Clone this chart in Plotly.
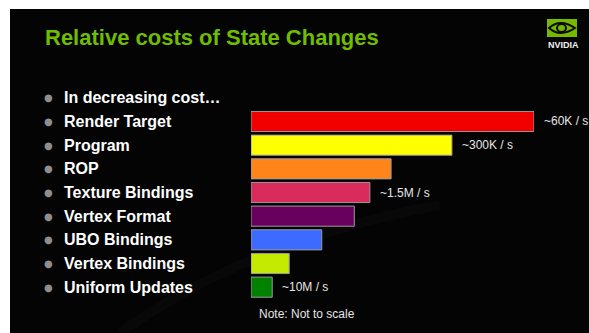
import plotly.graph_objects as go

# Relative cost of each kind of state change (arbitrary units, most expensive = 100)
header = "In decreasing cost…"
categories = ["Render Target", "Program", "ROP", "Texture Bindings",
              "Vertex Format", "UBO Bindings", "Vertex Bindings", "Uniform Updates"]
relative_cost = [100, 71, 49.5, 42, 36.5, 25, 13.5, 7.5]
bar_colors = ["#f20000", "#ffff00", "#ff8419", "#d92c5c",
              "#68005e", "#3d6bff", "#c3ea00", "#008200"]

# Throughput notes attached to some of the bars
rate_labels = {"Render Target": "~60K / s", "Program": "~300K / s",
               "Texture Bindings": "~1.5M / s", "Uniform Updates": "~10M / s"}

title_text = "Relative costs of State Changes"
note_text = "Note: Not to scale"

W, H = 589, 333
rows = [header] + categories

def px_x(v):
    return v / W

def px_y(v):
    return 1 - v / H

fig = go.Figure()
fig.add_trace(go.Bar(
    y=categories, x=relative_cost, orientation="h",
    marker=dict(color=bar_colors, line=dict(color="#9a9a9a", width=1)),
    hoverinfo="skip", showlegend=False,
))

shapes = [
    # slide background
    dict(type="rect", xref="paper", yref="paper", x0=px_x(10), x1=1, y0=0, y1=px_y(9),
         fillcolor="#040404", line=dict(width=0), layer="below"),
    # very faint swoosh in the background
    dict(type="path", xref="paper", yref="paper",
         path=f"M {px_x(120)},{px_y(333)} Q {px_x(250)},{px_y(240)} {px_x(440)},{px_y(205)}",
         line=dict(color="#080808", width=10), layer="below"),
    # logo mark
    dict(type="rect", xref="paper", yref="paper", x0=px_x(547), x1=px_x(577), y0=px_y(37), y1=px_y(19),
         fillcolor="#76b900", line=dict(width=0)),
    dict(type="path", xref="paper", yref="paper",
         path=(f"M {px_x(549)},{px_y(28)} Q {px_x(560)},{px_y(18)} {px_x(575)},{px_y(28)} "
               f"Q {px_x(560)},{px_y(38)} {px_x(549)},{px_y(28)} Z"),
         fillcolor="rgba(0,0,0,0)", line=dict(color="#0b0b0b", width=2)),
    dict(type="circle", xref="paper", yref="paper", x0=px_x(557), x1=px_x(566), y0=px_y(32), y1=px_y(24),
         fillcolor="rgba(0,0,0,0)", line=dict(color="#0b0b0b", width=2)),
]

annotations = [
    dict(text=f"<b>{title_text}</b>", xref="paper", yref="paper", x=px_x(43), y=px_y(37),
         xanchor="left", yanchor="middle", showarrow=False,
         font=dict(family="Arial, Liberation Sans", size=22, color="#70bd00")),
    dict(text="<b>NVIDIA</b>", xref="paper", yref="paper", x=px_x(563), y=px_y(45),
         xanchor="center", yanchor="middle", showarrow=False,
         font=dict(family="Arial, Liberation Sans", size=9, color="#f0f0f0")),
    dict(text=note_text, xref="paper", yref="paper", x=px_x(257), y=px_y(314),
         xanchor="left", yanchor="middle", showarrow=False,
         font=dict(family="Arial, Liberation Sans", size=12, color="#e6e6e6")),
]

# bullet list down the left side
for r in rows:
    annotations.append(dict(
        text=f"<b>{r}</b>", xref="paper", yref="y", x=px_x(62), y=r,
        xanchor="left", yanchor="middle", showarrow=False,
        font=dict(family="Arial, Liberation Sans", size=16, color="#ffffff")))
    annotations.append(dict(
        text="●", xref="paper", yref="y", x=px_x(48), y=r,
        xanchor="center", yanchor="middle", showarrow=False,
        font=dict(family="DejaVu Sans", size=10, color="#8e8e8e")))

# throughput labels just past the bar ends
for c, v in zip(categories, relative_cost):
    if c in rate_labels:
        annotations.append(dict(
            text=rate_labels[c], xref="x", yref="y", x=v, y=c, xshift=8,
            xanchor="left", yanchor="middle", showarrow=False,
            font=dict(family="Arial, Liberation Sans", size=12, color="#e6e6e6")))

fig.update_layout(
    width=W, height=H, margin=dict(l=0, r=0, t=0, b=0),
    paper_bgcolor="#ffffff", plot_bgcolor="rgba(0,0,0,0)",
    bargap=0.15,
    xaxis=dict(domain=[px_x(251), px_x(534)], range=[0, 100], visible=False, fixedrange=True),
    yaxis=dict(domain=[px_y(299), px_y(86)], categoryorder="array", categoryarray=rows,
               range=[len(rows) - 0.5, -0.5], visible=False, fixedrange=True),
    shapes=shapes, annotations=annotations,
)

fig.write_html("out.html", config={"displayModeBar": False})
